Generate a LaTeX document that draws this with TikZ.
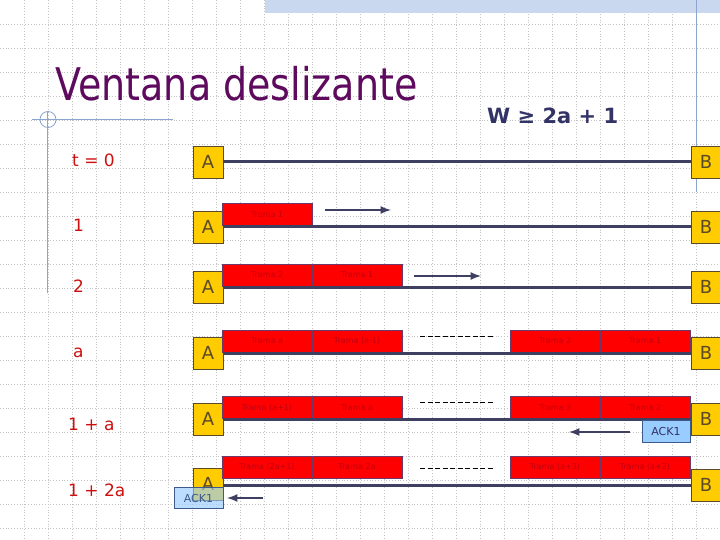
\documentclass[tikz,border=0pt]{standalone}
\usepackage{fontspec}
\setmainfont{DejaVu Sans}
\usepackage{tikz}

\definecolor{gold}{HTML}{FFCC00}
\definecolor{goldedge}{HTML}{5A4A2A}
\definecolor{navy}{HTML}{3F3F62}
\definecolor{framebd}{HTML}{6A3A6A}
\definecolor{frametext}{HTML}{C00010}
\definecolor{ackfill}{HTML}{99CCFF}
\definecolor{ackedge}{HTML}{3C5A8C}
\definecolor{steel}{HTML}{8CA5CF}
\definecolor{titlepurple}{HTML}{5E0A5E}
\definecolor{wblue}{HTML}{333366}
\definecolor{labelred}{HTML}{CC1010}
\definecolor{gridgray}{HTML}{C4C4C4}
\definecolor{band}{HTML}{C9D8EE}

\tikzset{
	station/.style={draw=goldedge, fill=gold, minimum width=30pt, minimum height=32pt, inner sep=0pt, text=goldedge, font=\fontsize{18}{18}\selectfont},
	trama/.style={draw=framebd, fill=red, line width=1pt, minimum width=90pt, minimum height=22pt, inner sep=0pt, text=frametext, font=\fontsize{8}{8}\selectfont},
	ackbox/.style={draw=ackedge, fill=ackfill, minimum width=48pt, minimum height=22pt, inner sep=0pt, text=wblue, font=\fontsize{11}{11}\selectfont},
	tlabel/.style={anchor=base west, inner sep=0pt, text=labelred, font=\fontsize{17}{17}\selectfont},
	enlace/.style={draw=navy, line width=3pt},
	flecha/.style={draw=navy, line width=2.5pt, -latex},
	hueco/.style={draw=black, line width=1pt, dash pattern=on 5pt off 2.5pt}
}

\begin{document}
\begin{tikzpicture}[x=1pt, y=-1pt]
	\clip (0,0) rectangle (720,540);
	\fill[white] (0,0) rectangle (720,540);

	% fondo
	\foreach \k in {1,...,29} \draw[gridgray, line width=0.8pt, dotted] (24*\k,0) -- (24*\k,540);
	\foreach \k in {1,...,22} \draw[gridgray, line width=0.8pt, dotted] (0,24*\k) -- (720,24*\k);
	\fill[band] (265,0) rectangle (720,13);
	\draw[steel, line width=1pt] (696,0) -- (696,192);
	\draw[steel, line width=1pt] (47.5,112) -- (47.5,293);
	\draw[steel, line width=1pt] (32,119.5) -- (173,119.5);
	\draw[steel, line width=0.8pt] (48,119.5) circle (8);

	% titulo
	\node[anchor=base west, inner sep=0pt, text=titlepurple, font=\fontsize{45}{45}\selectfont] (titulo) at (55,101) {\scalebox{0.845}[1]{Ventana deslizante}};
	\node[anchor=base west, inner sep=0pt, text=wblue, font=\bfseries\fontsize{21}{21}\selectfont] (cond) at (487,124) {W ≥ 2a + 1};

	% tiempos
	\node[tlabel] (t0) at (72,167) {t = 0};
	\node[tlabel] (t1) at (73,231) {1};
	\node[tlabel] (t2) at (73,292) {2};
	\node[tlabel] (t3) at (73,357) {a};
	\node[tlabel] (t4) at (68,430) {1 + a};
	\node[tlabel] (t5) at (68,496) {1 + 2a};

	% estaciones
	\node[station] (a0) at (208,162) {A};
	\node[station] (a1) at (208,227) {A};
	\node[station] (a2) at (208,287) {A};
	\node[station] (a3) at (208,353) {A};
	\node[station] (a4) at (208,419) {A};
	\node[station] (a5) at (208,484) {A};
	\node[station] (b0) at (706,162) {B};
	\node[station] (b1) at (706,227) {B};
	\node[station] (b2) at (706,287) {B};
	\node[station] (b3) at (706,353) {B};
	\node[station] (b4) at (706,419) {B};
	\node[station] (b5) at (706,485) {B};

	% tramas
	\node[trama] (f11) at (267,215) {Trama 1};
	\node[trama] (f21) at (267,275) {Trama 2};
	\node[trama] (f22) at (357,275) {Trama 1};
	\node[trama] (f31) at (267,341) {Trama a};
	\node[trama] (f32) at (357,341) {Trama (a-1)};
	\node[trama] (f33) at (555,341) {Trama 2};
	\node[trama] (f34) at (645,341) {Trama 1};
	\node[trama] (f41) at (267,407.5) {Trama (a+1)};
	\node[trama] (f42) at (357,407.5) {Trama a};
	\node[trama] (f43) at (555,407.5) {Trama 3};
	\node[trama] (f44) at (645,407.5) {Trama 2};
	\node[trama] (f51) at (267,467) {Trama (2a+1)};
	\node[trama] (f52) at (357,467) {Trama 2a};
	\node[trama] (f53) at (555,467) {Trama (a+3)};
	\node[trama] (f54) at (645,467) {Trama (a+2)};

	% enlaces
	\path[enlace] (a0) -- (b0);
	\path[enlace] (a1) -- (b1);
	\path[enlace] (a2) -- (b2);
	\path[enlace] (a3) -- (b3);
	\path[enlace] (a4) -- (b4);
	\path[enlace] (a5.east |- b5) -- (b5);

	% huecos
	\draw[hueco] (420,336) -- (493,336);
	\draw[hueco] (420,402) -- (493,402);
	\draw[hueco] (420,468) -- (493,468);

	% ack
	\node[ackbox] (k4) at (666,431) {ACK1};
	\node[ackbox, fill opacity=0.65, text opacity=1, text=ackedge, minimum width=49pt, minimum height=21pt] (k5) at (198.5,498) {ACK1};

	% flechas
	\coordinate (s1) at (325,210);
	\coordinate (e1) at (391,210);
	\coordinate (s2) at (414,276);
	\coordinate (e2) at (481,276);
	\coordinate (s4) at (630,432);
	\coordinate (e4) at (569,432);
	\coordinate (s5) at (263,498);
	\coordinate (e5) at (227,498);
	\path[flecha] (s1) -- (e1);
	\path[flecha] (s2) -- (e2);
	\path[flecha] (s4) -- (e4);
	\path[flecha] (s5) -- (e5);

\end{tikzpicture}
\end{document}
